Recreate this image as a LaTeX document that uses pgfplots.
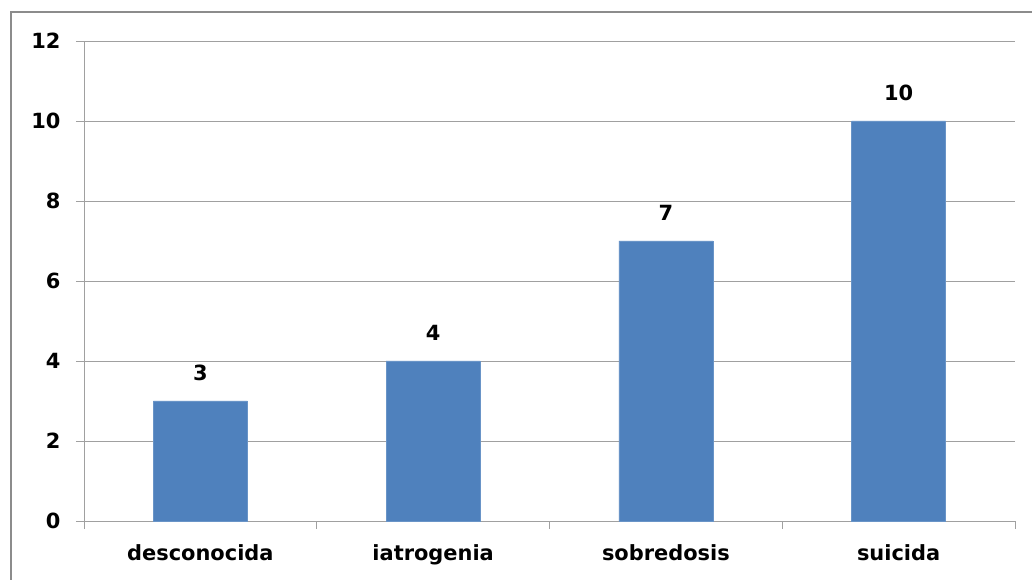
\documentclass[border=0pt]{standalone}
\usepackage{pgfplots}
\pgfplotsset{compat=1.18}
\usepackage{fontspec}
\setmainfont{DejaVu Sans}
\definecolor{barblue}{HTML}{4F81BD}
\definecolor{gridgray}{HTML}{A0A0A0}
\definecolor{framegray}{HTML}{8C8C8C}
\begin{document}
\begin{tikzpicture}
\path[use as bounding box] (-84bp,-59bp) rectangle (948bp,521bp);
\clip (-84bp,-59bp) rectangle (948bp,521bp);
\draw[framegray, line width=2.2bp] (-73bp,-80bp) -- (-73bp,509bp) -- (980bp,509bp);
\begin{axis}[
  at={(0,0)}, anchor=south west,
  scale only axis, width=931bp, height=480bp,
  xmin=-0.5, xmax=3.5, ymin=0, ymax=12,
  ytick={0,2,4,6,8,10,12},
  xtick={-0.5,0.5,1.5,2.5,3.5},
  x tick label as interval,
  xticklabels={desconocida,iatrogenia,sobredosis,suicida},
  ymajorgrids, grid style={gridgray, line width=0.8bp},
  axis x line*=bottom, axis y line*=left,
  axis line style={gridgray, line width=0.8bp},
  every tick/.style={gridgray, line width=0.8bp},
  tick align=outside, major tick length=8bp,
  /pgf/number format/assume math mode=true,
  ticklabel style={font=\fontsize{21}{25}\selectfont\bfseries},
  yticklabel style={xshift=-12bp},
  xticklabel style={yshift=-12bp},
  ybar, bar width=94bp,
  nodes near coords,
  nodes near coords style={font=\fontsize{21}{25}\selectfont\bfseries, yshift=17bp},
  clip=false,
]
\addplot[fill=barblue, draw=barblue!85!white] coordinates {(0,3) (1,4) (2,7) (3,10)};
\end{axis}
\end{tikzpicture}
\end{document}
